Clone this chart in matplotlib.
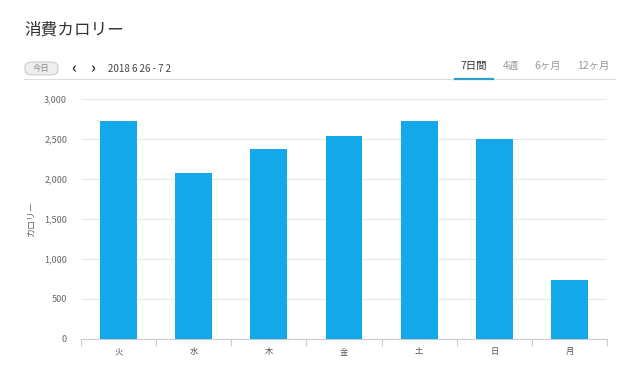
import matplotlib.pyplot as plt
from matplotlib.patches import FancyBboxPatch
import numpy as np

plt.rcParams['font.family'] = ['Noto Sans CJK JP', 'DejaVu Sans']

days = ['火', '水', '木', '金', '土', '日', '月']
calories = [2720, 2080, 2380, 2540, 2720, 2500, 740]
y_ticks = [0, 500, 1000, 1500, 2000, 2500, 3000]
tabs = ['7日間', '4週', '6ヶ月', '12ヶ月']
tab_x = [474, 511, 548, 593]

fig = plt.figure(figsize=(6.4, 3.92), dpi=100)
W, H = 640, 392

def fx(px):
    return px / W

def fy(py):
    return 1 - py / H

# 見出し部分
fig.text(fx(24), fy(30), '消費カロリー', fontsize=12, color='#333333', va='center', ha='left')
btn = FancyBboxPatch((fx(25), fy(75)), fx(33), 13 / H,
                     boxstyle='round,pad=0,rounding_size=0.012',
                     transform=fig.transFigure, facecolor='#eeeeee',
                     edgecolor='#cccccc', lw=0.8)
fig.patches.append(btn)
fig.text(fx(41.5), fy(68.5), '今日', fontsize=6, color='#888888', ha='center', va='center')
fig.text(fx(74), fy(68), '‹', fontsize=11, color='#333333', ha='center', va='center', fontweight='bold')
fig.text(fx(93), fy(68), '›', fontsize=11, color='#333333', ha='center', va='center', fontweight='bold')
fig.text(fx(108), fy(68.5), '2018 6 26 - 7 2', fontsize=7, color='#444444', ha='left', va='center')

fig.add_artist(plt.Line2D([fx(24), fx(615)], [fy(78.5), fy(78.5)],
                          transform=fig.transFigure, color='#dddddd', lw=0.8))
for i, (t, x) in enumerate(zip(tabs, tab_x)):
    fig.text(fx(x), fy(66), t, fontsize=7.5, ha='center', va='center',
             color='#333333' if i == 0 else '#999999')
fig.add_artist(plt.Line2D([fx(455), fx(493)], [fy(78.5), fy(78.5)],
                          transform=fig.transFigure, color='#2aa3c9', lw=1.6))

# グラフ本体
ax = fig.add_axes([fx(81), fy(339), fx(607) - fx(81), fy(99) - fy(339)])
x = np.arange(len(days))
ax.bar(x, calories, width=0.49, color='#12a8ea', zorder=3)
ax.set_xlim(-0.5, len(days) - 0.5)
ax.set_ylim(0, 3000)
ax.set_yticks(y_ticks)
ax.set_yticklabels([f'{v:,}' for v in y_ticks])
ax.grid(axis='y', color='#e6e6e6', lw=0.8, zorder=0)

ax.set_xticks(np.arange(-0.5, len(days)), minor=True)
ax.set_xticks(x)
ax.set_xticklabels(days)
ax.tick_params(axis='x', which='major', length=0, labelsize=6, colors='#555555', pad=6)
ax.tick_params(axis='x', which='minor', length=5, color='#cccccc', width=0.8)
ax.tick_params(axis='y', length=0, labelsize=6.5, colors='#666666', pad=10)

for s in ['top', 'right', 'left']:
    ax.spines[s].set_visible(False)
ax.spines['bottom'].set_color('#cccccc')
ax.spines['bottom'].set_linewidth(0.8)

ax.set_ylabel('カロリー', fontsize=6.5, color='#666666')
ax.yaxis.set_label_coords(-0.086, 0.5)

fig.savefig('out.png', dpi=100, facecolor='white')
